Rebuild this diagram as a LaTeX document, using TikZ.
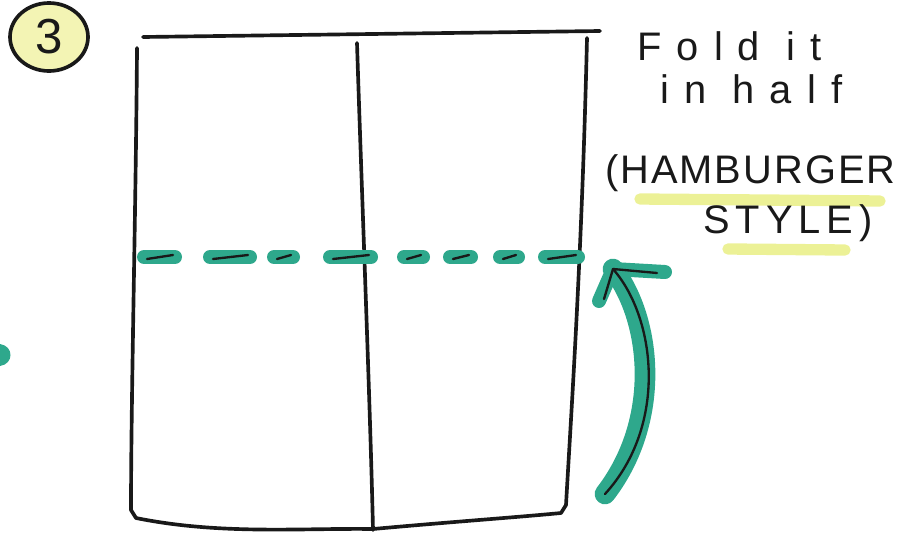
\documentclass[tikz,border=0pt]{standalone}
\usepackage{fontspec}
\setmainfont{Liberation Sans}
\newfontfamily\handfont{Liberation Sans}
\usetikzlibrary{arrows.meta,positioning,calc,shapes.geometric}
\definecolor{inkteal}{RGB}{46,168,140}
\definecolor{penblack}{RGB}{25,25,25}
\definecolor{hlyellow}{RGB}{236,241,150}
\definecolor{badgebg}{RGB}{243,244,180}
\tikzset{
  pen/.style={draw=penblack,line width=1.1mm,line cap=round,line join=round},
  penthin/.style={draw=penblack,line width=0.7mm,line cap=round,line join=round},
  marker/.style={draw=inkteal,line width=4.2mm,line cap=round},
  band/.style={draw=inkteal,line width=6.2mm,line cap=round,line join=round},
  hilite/.style={draw=hlyellow,line width=3.4mm,line cap=round},
  badge/.style={ellipse,pen,fill=badgebg,minimum width=23.4mm,minimum height=20.4mm,
                inner sep=0pt,text=penblack,font=\handfont\fontsize{42}{42}\selectfont},
  hand/.style={anchor=base west,inner sep=0pt,text=penblack,
               font=\handfont\fontsize{34}{34}\selectfont\addfontfeature{LetterSpace=5}},
  handwide/.style={hand,font=\handfont\fontsize{34}{34}\selectfont\addfontfeature{LetterSpace=38}},
}

\begin{document}
\begin{tikzpicture}[x=0.3mm,y=-0.3mm]
  \useasboundingbox (0,0) rectangle (905,537);

  \node[badge] (step) at (49,37) {3};

  % the sheet
  \draw[pen] (143,37) -- (600,31);
  \draw[pen] (137,48) .. controls (136,200) and (131,400) .. (131,510) -- (136,518)
    .. controls (220,535) and (300,528) .. (373,529)
    .. controls (450,522) and (520,517) .. (561,513) -- (566,505)
    .. controls (572,400) and (582,250) .. (587,38);
  \draw[pen] (357,43) .. controls (362,200) and (370,400) .. (373,530);

  % fold line
  \coordinate (fold-r) at (586,258);
  \foreach \a/\b in {137/182,203/257,267/300,323/378,397/430,443/478,493/525,538/585}{
    \draw[marker] (\a+7,257) -- (\b-7,257);
    \draw[penthin] (\a+10,259) -- (\b-9,255);
  }

  \fill[inkteal] (0,344) .. controls (14,346) and (14,364) .. (0,366) -- cycle;

  % arrow up to the fold
  \coordinate (tail) at (605,494);
  \coordinate (tip) at ($(fold-r)+(27,11)$);
  \draw[band] (tail) .. controls (662,420) and (652,320) .. (tip);
  \draw[marker] (tip) -- ++(52,3);
  \draw[marker] (tip) -- ++(-14,32);
  \draw[penthin] (tail) .. controls (668,425) and (656,318) .. (tip) -- ++(44,4);
  \draw[penthin] (tip) -- ++(-9,30);

  \draw[hilite] (640,199) -- (880,201);
  \draw[hilite] (728,249) -- (845,250);

  \node[handwide] (fold)   at (637,60)  {Fold it};
  \node[handwide] (half)   at (660,103) {in half};
  \node[hand]     (burger) at (605,183) {(HAMBURGER};
  \node[hand,font=\handfont\fontsize{34}{34}\selectfont\addfontfeature{LetterSpace=15}]
                  (style)  at (703,233) {STYLE)};
\end{tikzpicture}
\end{document}
